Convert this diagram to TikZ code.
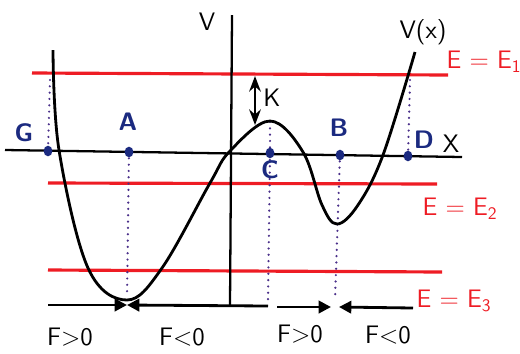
\documentclass[tikz,border=0pt]{standalone}
\usepackage{tikz}
\usetikzlibrary{arrows.meta,calc}
\definecolor{energy}{HTML}{EE1C24}
\definecolor{point}{HTML}{1B2A80}
\definecolor{guide}{HTML}{4A2F8A}

\begin{document}
\begin{tikzpicture}[x=0.02cm, y=-0.02cm, >=Stealth, font=\sffamily\Large,
    level/.style={energy, line width=1.8pt},
    axis/.style={line width=1.3pt},
    guideline/.style={guide, line width=1.4pt, line cap=round, dash pattern=on 0pt off 3.6pt},
    ptlabel/.style={point, font=\sffamily\Large\bfseries}]
    \useasboundingbox (0,0) rectangle (520,353);

    % energy levels
    \draw[level] (32,73) -- (448,75);
    \draw[level] (48,183) -- (437,184);
    \draw[level] (48,270) -- (442,272);
    \node[energy] (e1) at (484,62) {E = E\textsubscript{1}};
    \node[energy] (e2) at (460,209) {E = E\textsubscript{2}};
    \node[energy] (e3) at (454,301) {E = E\textsubscript{3}};

    % points on the x axis
    \coordinate (G) at (48,151);
    \coordinate (A) at (129,152);
    \coordinate (C) at (270,153);
    \coordinate (B) at (340,155);
    \coordinate (D) at (408,156);
    \coordinate (K) at (270,122);
    \coordinate (Amin) at (127,305);
    \coordinate (Cbot) at (268,306);
    \coordinate (Bbot) at (335,306);

    % guides
    \draw[guideline] (50,80) -- (G);
    \draw[guideline] (A) -- (127,297);
    \draw[guideline] (K) -- (C) -- (268,302);
    \draw[guideline] (B) -- (335,300);
    \draw[guideline] (410,80) -- (D);

    % axes
    \draw[axis] (5,150) -- (462,157);
    \draw[axis] (232,15) -- (230,306);
    \node (xlab) at (451,144) {X};
    \node (vlab) at (207,22) {V};

    % potential
    \draw[line width=1.6pt] plot[smooth, tension=0.6] coordinates {
        (53,50) (59,150) (88,268) (127,300) (162,268) (210,183)
        (230,151) (270,121) (303,152) (322,205) (337,224) (358,205)
        (383,155) (415,52)};
    \node (vx) at (423,32) {V(x)};

    % the dots
    \foreach \p in {G,A,C,B,D}
        \fill[point] (\p) ellipse [x radius=2.5pt, y radius=3pt];
    \node[ptlabel] (lG) at (24,133) {G};
    \node[ptlabel] (lA) at (128,122) {A};
    \node[ptlabel] (lC) at (270,170) {C};
    \node[ptlabel] (lB) at (339,128) {B};
    \node[ptlabel] (lD) at (424,140) {D};
    \node (lK) at (272,98) {K};

    % depth of the well
    \draw[<->, line width=1.3pt] (255,76) -- (255,125);

    % forces
    \draw[line width=1.6pt, -{Triangle[length=7pt, width=7pt]}] (48,305) -- (Amin);
    \draw[line width=1.6pt, -{Triangle[length=7pt, width=7pt]}] (Cbot) -- (Amin);
    \draw[line width=1.6pt, -{Triangle[length=7pt, width=7pt]}] (277,307) -- (331,307);
    \draw[line width=1.6pt, -{Triangle[length=7pt, width=7pt]}] (413,308) -- (339,307);
    \node (f1) at (70,337) {F>0};
    \node (f2) at (182,337) {F<0};
    \node (f3) at (300,334) {F>0};
    \node (f4) at (388,335) {F<0};
\end{tikzpicture}
\end{document}
